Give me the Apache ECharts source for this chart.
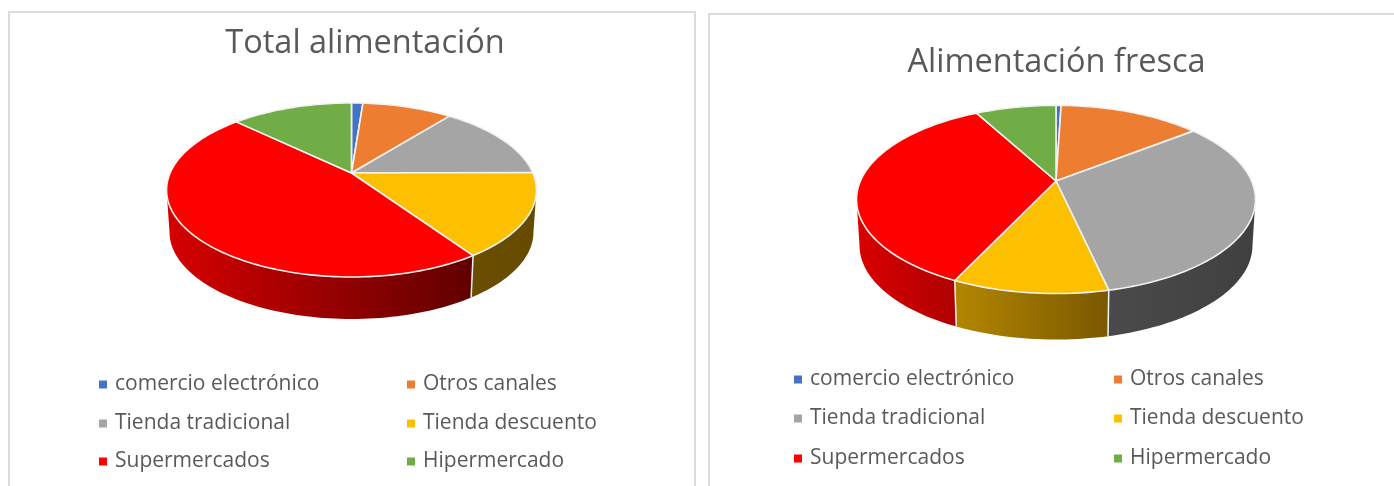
<!DOCTYPE html>
<html>
<head>
<meta charset="utf-8">
<style>
html, body { margin: 0; padding: 0; background: #fff; overflow: hidden; }
#page { position: relative; width: 1394px; height: 486px; }
.frame { position: absolute; border: 2px solid #dcdcdc; border-bottom: none; box-sizing: border-box; }
.chart { position: absolute; left: 0; top: 0; width: 1394px; height: 486px; }
</style>
<script src="https://cdn.jsdelivr.net/npm/echarts@6/dist/echarts.min.js"></script>
</head>
<body>
<div id="page">
   <div class="frame" style="left:8px;top:11px;width:688px;height:475px;"></div>
   <div class="frame" style="left:708px;top:13px;width:700px;height:473px;"></div>
   <div class="chart" id="chart-1"></div>
   <div class="chart" id="chart-2"></div>
</div>
<script>
const categories = ["comercio electrónico", "Otros canales", "Tienda tradicional", "Tienda descuento", "Supermercados", "Hipermercado"];
const totalValues = [1.2, 9.5, 14.2, 15.6, 46.7, 12.8];
const frescaValues = [0.5, 13.9, 32.1, 10.5, 35.1, 7.9];
const sliceColors = ["#4472c4", "#ed7d31", "#a5a5a5", "#fcc000", "#ff0000", "#70ad47"];

const FONT = '"Open Sans", "Noto Sans", sans-serif';
const TEXT_COLOR = "#595959";

// perspective disc: apex = centre of the pie on screen, a/p/r fitted from the rim
const layoutTotal = {
   title: "Total alimentación", titleX: 360, titleY: 22, titleSize: 32.5,
   cx: 351.5, cy: 173, a: 83.7, p: 0.195, r: 181.4, depth: 42, shrink: 0.984,
   legendX: [99, 407], legendY: [382, 421, 459],
   walls: {
      3: ["#6b4e00", "#654a00", 473, 536],
      4: ["#d60000", "#600000", 168, 473],
   },
};
const layoutFresca = {
   title: "Alimentación fresca", titleX: 1051.5, titleY: 41, titleSize: 32.5,
   cx: 1056, cy: 181, a: 90.5, p: 0.196, r: 195.6, depth: 46, shrink: 0.985,
   legendX: [794, 1114], legendY: [377, 416, 456],
   walls: {
      2: ["#4a4a4a", "#404040", 1108, 1253],
      3: ["#b38600", "#7a5800", 956, 1108],
      4: ["#d90000", "#b00000", 858, 956],
   },
};

function rimPoint(cfg, deg, lower) {
   const t = deg * Math.PI / 180;
   const u = Math.sin(t), v = -Math.cos(t);
   const w = 1 - cfg.p * v;
   let x = cfg.r * u / w;
   let y = cfg.a * v / w;
   if (lower) {
      x *= cfg.shrink;
      y += cfg.depth;
   }
   return [cfg.cx + x, cfg.cy + y];
}

function arcPoints(cfg, from, to, lower) {
   const pts = [];
   const steps = Math.max(2, Math.ceil((to - from) / 1.5));
   for (let i = 0; i <= steps; i++) {
      pts.push(rimPoint(cfg, from + (to - from) * i / steps, lower));
   }
   return pts;
}

const makeRenderItem = (cfg, index) => (params, api) => {
   const start = api.value(0) * 3.6;
   const end = api.value(1) * 3.6;
   const children = [];
   // the side only shows on the front of the disc, from the widest point round
   const silhouette = Math.acos(-cfg.p) * 180 / Math.PI;
   const wallFrom = Math.max(start, silhouette);
   const wallTo = Math.min(end, 360 - silhouette);
   const wall = cfg.walls[index];
   if (wall && wallTo > wallFrom) {
      const top = arcPoints(cfg, wallFrom, wallTo, false);
      const bottom = arcPoints(cfg, wallFrom, wallTo, true).reverse();
      children.push({
         type: "polygon",
         z2: 1,
         shape: { points: top.concat(bottom) },
         style: {
            fill: new echarts.graphic.LinearGradient(wall[2], 0, wall[3], 0, [
               { offset: 0, color: wall[0] },
               { offset: 1, color: wall[1] },
            ], true),
         },
      });
      if (end < 360 - silhouette) {
         children.push({
            type: "line",
            z2: 2,
            shape: {
               x1: rimPoint(cfg, end, false)[0], y1: rimPoint(cfg, end, false)[1],
               x2: rimPoint(cfg, end, true)[0], y2: rimPoint(cfg, end, true)[1],
            },
            style: { stroke: "#f4f4f4", lineWidth: 1.5 },
         });
      }
   }
   children.push({
      type: "polygon",
      z2: 3,
      shape: { points: [[cfg.cx, cfg.cy]].concat(arcPoints(cfg, start, end, false)) },
      style: { fill: sliceColors[index], stroke: "#f2f2f2", lineWidth: 1.6, lineJoin: "round" },
   });
   return { type: "group", children };
};

const initChart = (id, cfg, values) => {
   const chart = echarts.init(document.getElementById(id));
   let sum = 0;
   const total = values.reduce((a, b) => a + b, 0);
   const series = categories.map((name, i) => {
      const from = sum / total * 100;
      sum += values[i];
      return {
         type: "custom",
         name,
         coordinateSystem: "none",
         silent: true,
         animation: false,
         itemStyle: { color: sliceColors[i] },
         renderItem: makeRenderItem(cfg, i),
         data: [[from, sum / total * 100]],
      };
   });
   const legend = categories.map((name, i) => ({
      data: [name],
      left: cfg.legendX[i % 2],
      top: cfg.legendY[Math.floor(i / 2)] - 8,
      padding: 0,
      icon: "rect",
      itemWidth: 8,
      itemHeight: 8,
      selectedMode: false,
      textStyle: { color: TEXT_COLOR, fontFamily: FONT, fontSize: 21, padding: [0, 0, 0, 3] },
   }));
   chart.setOption({
      animation: false,
      title: {
         text: cfg.title,
         left: cfg.titleX,
         top: cfg.titleY,
         textAlign: "center",
         textStyle: { color: TEXT_COLOR, fontFamily: FONT, fontSize: cfg.titleSize, fontWeight: "normal" },
      },
      legend,
      series,
   });
};

initChart("chart-1", layoutTotal, totalValues);
initChart("chart-2", layoutFresca, frescaValues);
</script>
</body>
</html>
